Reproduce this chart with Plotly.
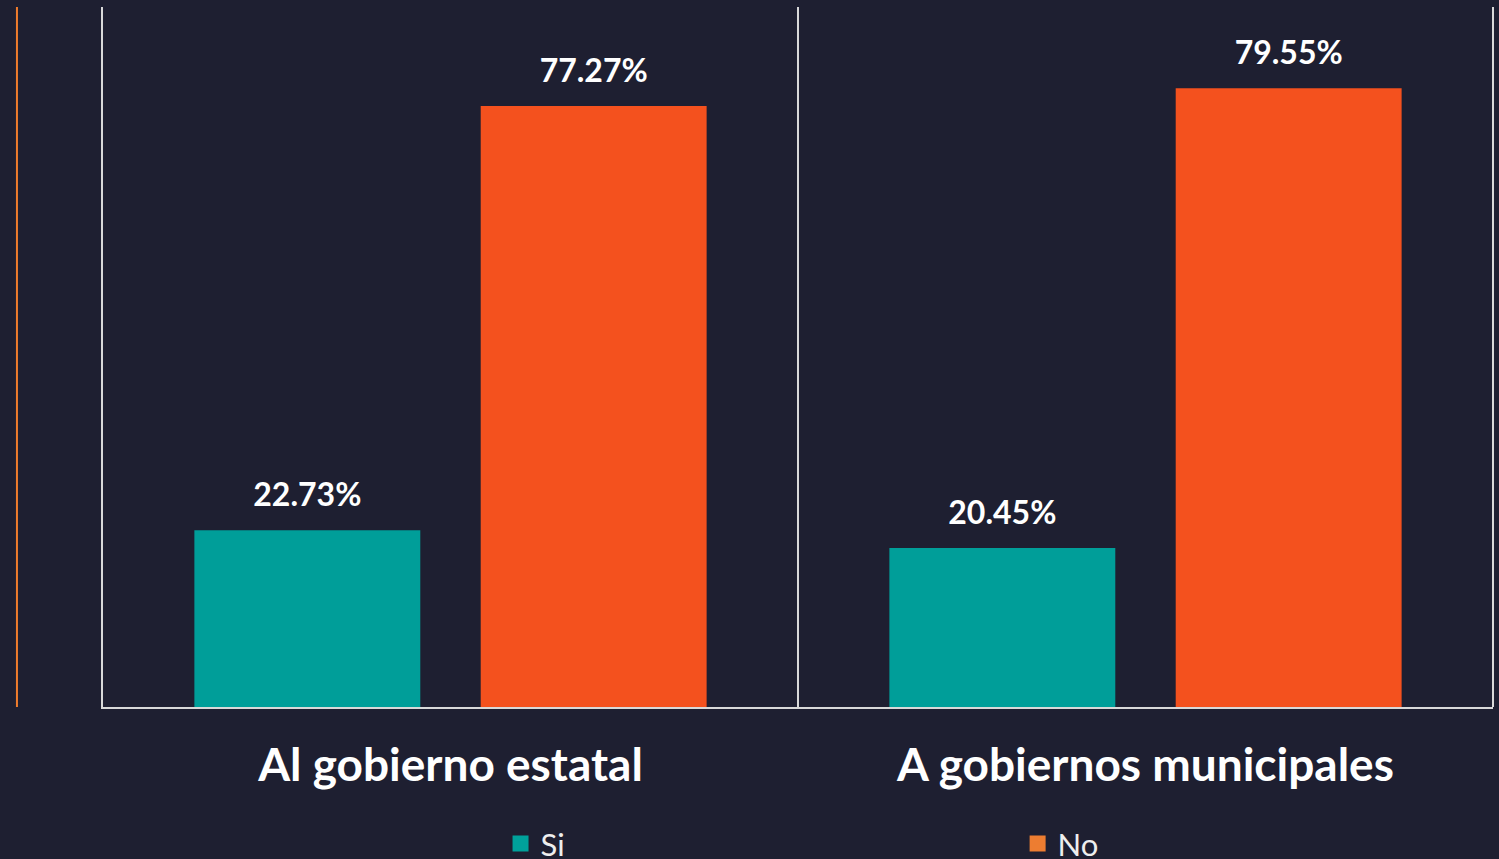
import plotly.graph_objects as go

categorias = ["Al gobierno estatal", "A gobiernos municipales"]
series = ["Si", "No"]
valores_si = [22.73, 20.45]
valores_no = [77.27, 79.55]

colores_barra = {"Si": "#009e99", "No": "#f4511e"}
colores_leyenda = {"Si": "#00a19b", "No": "#ed7d31"}
fondo = "#1e1f31"

fig = go.Figure()

for nombre, vals in zip(series, [valores_si, valores_no]):
    fig.add_trace(go.Bar(
        x=categorias, y=vals, name=nombre,
        marker=dict(color=colores_barra[nombre], line=dict(width=0)),
        texttemplate="<span style='font-size:32px'><b>%{y:.2f}%</b></span><br> ",
        textposition="outside",
        textfont=dict(family="Lato", size=14, color="white"),
        cliponaxis=False,
        showlegend=False,
    ))

# entradas de leyenda (color distinto al de las barras, como en el original)
for nombre, ley in zip(series, ["legend", "legend2"]):
    fig.add_trace(go.Scatter(
        x=[None], y=[None], mode="markers", name=nombre, legend=ley,
        marker=dict(symbol="square", size=16, color=colores_leyenda[nombre]),
    ))

ley_estilo = dict(orientation="h", xanchor="left", y=-0.234, yanchor="bottom",
                  font=dict(family="Lato", size=31, color="#eeeeee"),
                  bgcolor="rgba(0,0,0,0)")

fig.update_layout(
    width=1499, height=859,
    paper_bgcolor=fondo, plot_bgcolor=fondo,
    margin=dict(l=103, r=6, t=7, b=152, autoexpand=False),
    barmode="group", bargap=0.176, bargroupgap=0.211,
    font=dict(family="Lato", color="white"),
    legend=dict(x=0.286, **ley_estilo),
    legend2=dict(x=0.658, **ley_estilo),
    xaxis=dict(
        showline=True, linecolor="#d9d9d9", linewidth=2, showgrid=False,
        ticks="", ticklabelstandoff=17,
        tickfont=dict(family="Lato", size=46, color="white", weight="bold"),
    ),
    yaxis=dict(
        range=[0, 90], showline=True, linecolor="#d9d9d9", linewidth=2,
        showgrid=False, zeroline=False, showticklabels=False, ticks="",
    ),
    shapes=[
        dict(type="line", xref="paper", yref="paper", x0=0.5, x1=0.5, y0=0, y1=1,
             line=dict(color="#d9d9d9", width=2)),
        dict(type="line", xref="paper", yref="paper", x0=1, x1=1, y0=0, y1=1,
             line=dict(color="#d9d9d9", width=2)),
        dict(type="line", xref="paper", yref="paper", x0=-0.0619, x1=-0.0619, y0=0, y1=1,
             line=dict(color="#f07c2c", width=2)),
    ],
)

fig.write_html("out.html", config={"displayModeBar": False},
               post_script="document.body.style.margin='0';")
